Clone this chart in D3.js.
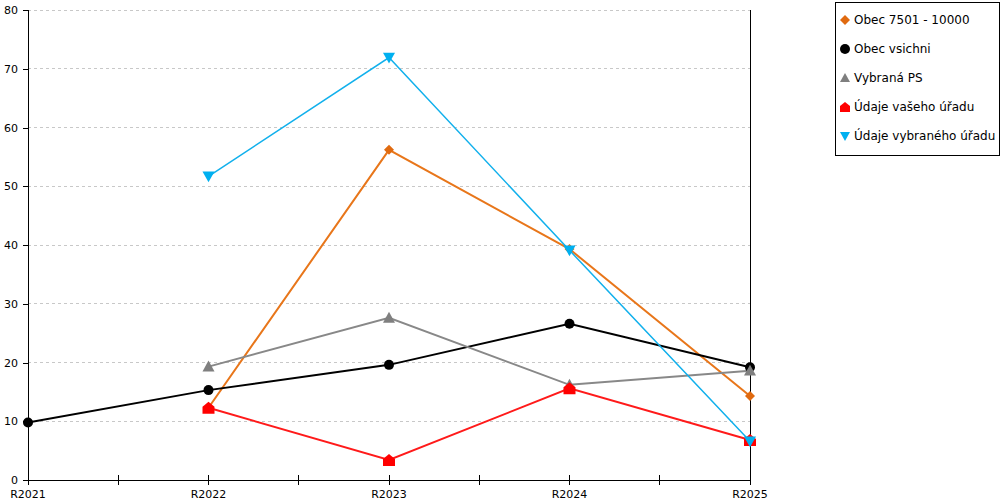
<!DOCTYPE html>
<html>
<head>
<meta charset="utf-8">
<script src="https://cdn.jsdelivr.net/npm/d3@7"></script>
<style>
  body { margin: 0; background: #fff; }
  text { font-family: "DejaVu Sans", sans-serif; }
</style>
</head>
<body>
<div id="chart"></div>
<script>
var categories = ["R2021", "R2022", "R2023", "R2024", "R2025"];
var seriesNames = ["Obec 7501 - 10000", "Obec vsichni", "Vybraná PS", "Údaje vašeho úřadu", "Údaje vybraného úřadu"];
var obec7501 = [null, 12.3, 56.2, 39.3, 14.3];
var obecVsichni = [9.8, 15.3, 19.6, 26.6, 19.2];
var vybranaPS = [null, 19.3, 27.6, 16.2, 18.6];
var vaseUrad = [null, 12.3, 3.4, 15.6, 6.8];
var vybranyUrad = [null, 51.7, 71.9, 39.1, 6.6];
var yTicks = [0, 10, 20, 30, 40, 50, 60, 70, 80];

var colors = ["#e8761a", "#000000", "#888888", "#ff1a1a", "#11b0ec"];
var markerColors = ["#e06a10", "#000000", "#7f7f7f", "#ff0000", "#00b0f0"];
var shapes = ["diamond", "circle", "triangle", "house", "down"];
var allSeries = [obec7501, obecVsichni, vybranaPS, vaseUrad, vybranyUrad];

var margin = {top: 10, left: 28};
var plotW = 722, plotH = 470;

var svg = d3.select("#chart").append("svg")
    .attr("width", 1000)
    .attr("height", 500);

var g = svg.append("g")
    .attr("transform", "translate(" + margin.left + "," + margin.top + ")");

var x = d3.scalePoint().domain(categories).range([0, plotW]);
var y = d3.scaleLinear().domain([0, 80]).range([plotH, 0]);

// grid
g.selectAll(".grid")
    .data(yTicks.slice(1))
    .enter().append("line")
    .attr("x1", 0).attr("x2", plotW)
    .attr("y1", function(d) { return y(d); })
    .attr("y2", function(d) { return y(d); })
    .attr("stroke", "#c8c8c8")
    .attr("stroke-dasharray", "3,3")
    .attr("shape-rendering", "crispEdges");

// right border
g.append("line")
    .attr("x1", plotW).attr("x2", plotW)
    .attr("y1", 0).attr("y2", plotH)
    .attr("stroke", "#000")
    .attr("shape-rendering", "crispEdges");

// y axis
var yAxis = g.append("g")
    .attr("shape-rendering", "crispEdges")
    .call(d3.axisLeft(y).tickValues(yTicks).tickSize(5).tickPadding(5));
yAxis.select(".domain").attr("stroke", "#000").attr("d", "M0," + plotH + "V0");
yAxis.selectAll("text").style("font-size", "11px").attr("fill", "#000");

// x axis with half-step ticks
var step = x.step();
var xTickPos = d3.range(0, categories.length * 2 - 1).map(function(i) { return i * step / 2; });
var xAxisG = g.append("g")
    .attr("transform", "translate(0," + plotH + ")")
    .attr("shape-rendering", "crispEdges");
xAxisG.append("line")
    .attr("x1", 0).attr("x2", plotW)
    .attr("stroke", "#000");
xAxisG.selectAll(".xt")
    .data(xTickPos)
    .enter().append("line")
    .attr("x1", function(d) { return d; })
    .attr("x2", function(d) { return d; })
    .attr("y1", -5).attr("y2", 5)
    .attr("stroke", "#000");
xAxisG.selectAll(".xl")
    .data(categories)
    .enter().append("text")
    .attr("x", function(d) { return x(d); })
    .attr("y", 18)
    .attr("text-anchor", "middle")
    .style("font-size", "11px")
    .text(function(d) { return d; });

function markerPath(shape, size) {
    var s = size;
    if (shape === "diamond") return "M0," + (-s) + "L" + s + ",0L0," + s + "L" + (-s) + ",0Z";
    if (shape === "triangle") return "M0," + (-s) + "L" + s + "," + (s * 0.8) + "L" + (-s) + "," + (s * 0.8) + "Z";
    if (shape === "down") return "M" + (-s) + "," + (-s * 0.8) + "L" + s + "," + (-s * 0.8) + "L0," + s + "Z";
    if (shape === "house") return "M0," + (-s) + "L" + s + ",-1L" + s + "," + s + "L" + (-s) + "," + s + "L" + (-s) + ",-1Z";
    return null;
}

var line = d3.line()
    .defined(function(d) { return d.v !== null; })
    .x(function(d) { return x(d.c); })
    .y(function(d) { return y(d.v); });

allSeries.forEach(function(values, si) {
    var pts = values.map(function(v, i) { return {c: categories[i], v: v}; });
    g.append("path")
        .datum(pts)
        .attr("fill", "none")
        .attr("stroke", colors[si])
        .attr("stroke-width", si === 4 ? 1.5 : 2)
        .attr("d", line);
});

allSeries.forEach(function(values, si) {
    var pts = values.map(function(v, i) { return {c: categories[i], v: v}; })
        .filter(function(d) { return d.v !== null; });
    var mg = g.selectAll(".m" + si).data(pts).enter().append("g")
        .attr("transform", function(d) { return "translate(" + x(d.c) + "," + y(d.v) + ")"; });
    if (shapes[si] === "circle") {
        mg.append("circle").attr("r", 5).attr("fill", markerColors[si]);
    } else {
        mg.append("path")
            .attr("d", markerPath(shapes[si], shapes[si] === "diamond" ? 5 : 6))
            .attr("fill", markerColors[si]);
    }
});

// legend
var lg = svg.append("g").attr("transform", "translate(835,2)");
lg.append("rect")
    .attr("x", 0.5).attr("y", 0.5)
    .attr("width", 164).attr("height", 153)
    .attr("fill", "#fff").attr("stroke", "#000")
    .attr("shape-rendering", "crispEdges");

var items = lg.selectAll(".li")
    .data(seriesNames)
    .enter().append("g")
    .attr("transform", function(d, i) { return "translate(10," + (18 + i * 29) + ")"; });
items.each(function(d, i) {
    var it = d3.select(this);
    if (shapes[i] === "circle") {
        it.append("circle").attr("r", 5).attr("fill", markerColors[i]);
    } else {
        it.append("path")
            .attr("d", markerPath(shapes[i], 5))
            .attr("fill", markerColors[i]);
    }
});
items.append("text")
    .attr("x", 9)
    .attr("y", 4)
    .style("font-size", "12px")
    .text(function(d) { return d; });
</script>
</body>
</html>
